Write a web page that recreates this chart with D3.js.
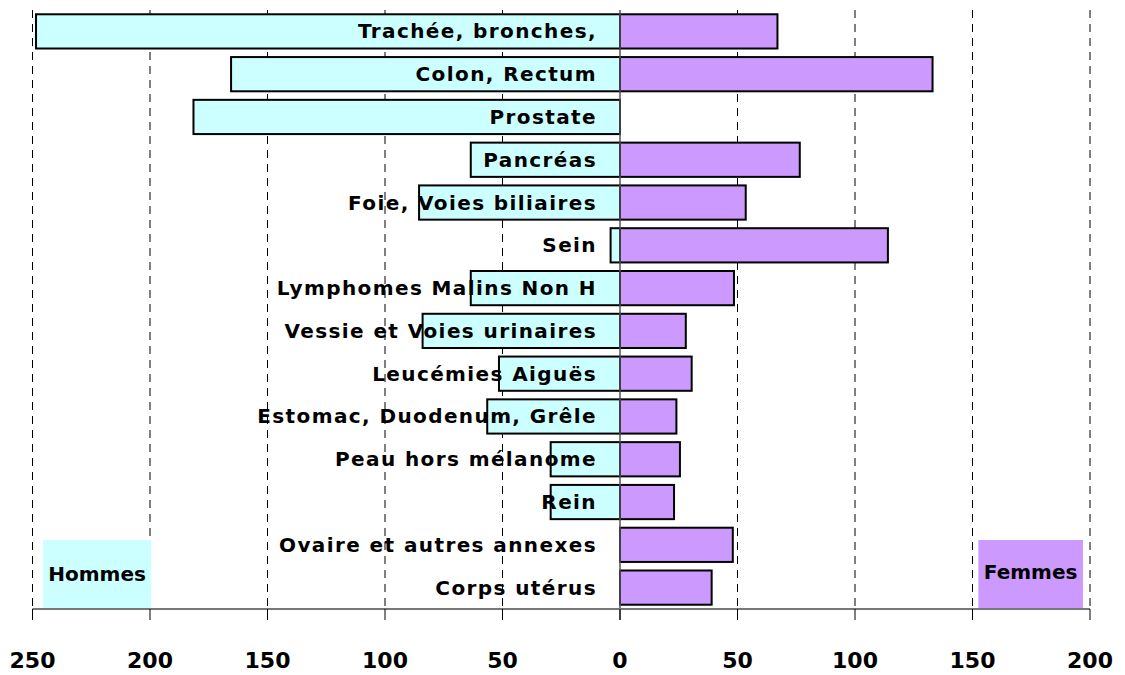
<!DOCTYPE html>
<html>
<head>
<meta charset="utf-8">
<script src="https://cdn.jsdelivr.net/npm/d3@7"></script>
<style>
  body { margin: 0; background: #fff; }
  text { font-family: "Comic Sans MS", "DejaVu Sans", sans-serif; font-weight: bold; fill: #000; }
</style>
</head>
<body>
<div id="chartArea"></div>
<script>
// data
const categories = [
  "Trachée, bronches,", "Colon, Rectum", "Prostate", "Pancréas",
  "Foie, Voies biliaires", "Sein", "Lymphomes Malins Non H",
  "Vessie et Voies urinaires", "Leucémies Aiguës", "Estomac, Duodenum, Grêle",
  "Peau hors mélanome", "Rein", "Ovaire et autres annexes", "Corps utérus"
];
const hommes = [248.5, 165.5, 181.5, 63.5, 85.5, 4, 63.5, 84, 51.5, 56.5, 29.5, 29.5, 0, 0];
const femmes = [67, 133, 0, 76.5, 53.5, 114, 48.5, 28, 30.5, 24, 25.5, 23, 48, 39];
const ticks = [-250, -200, -150, -100, -50, 0, 50, 100, 150, 200];

const chart = {};
chart.width = 1125;
chart.height = 675;
chart.margin = { top: 10, right: 35, bottom: 66, left: 32.5 };

chart.svg = d3.select("#chartArea").append("svg")
  .attr("width", chart.width)
  .attr("height", chart.height);

var x = d3.scaleLinear([-250, 200], [chart.margin.left, chart.width - chart.margin.right]);
var y = d3.scaleBand(categories, [chart.margin.top, chart.height - chart.margin.bottom])
  .paddingInner(0.2)
  .paddingOuter(0.1);
var bottom = chart.height - chart.margin.bottom;

// dashed grid
chart.svg.append("g")
  .selectAll("line")
  .data(ticks.filter((d) => d !== 0))
  .join("line")
  .attr("x1", (d) => x(d)).attr("x2", (d) => x(d))
  .attr("y1", chart.margin.top).attr("y2", bottom)
  .attr("stroke", "#000")
  .attr("stroke-width", 1)
  .attr("stroke-dasharray", "8,6");

// legend boxes
chart.svg.append("rect")
  .attr("x", x(-245.5)).attr("y", 540)
  .attr("width", x(-199.5) - x(-245.5)).attr("height", bottom - 540)
  .attr("fill", "#ccffff");
chart.svg.append("text")
  .attr("x", (x(-245.5) + x(-199.5)) / 2).attr("y", 574)
  .attr("text-anchor", "middle").attr("dominant-baseline", "central")
  .style("font-size", "20px")
  .text("Hommes");
chart.svg.append("rect")
  .attr("x", x(152.5)).attr("y", 540)
  .attr("width", x(197) - x(152.5)).attr("height", bottom - 540)
  .attr("fill", "#cc99ff");
chart.svg.append("text")
  .attr("x", (x(152.5) + x(197)) / 2).attr("y", 572)
  .attr("text-anchor", "middle").attr("dominant-baseline", "central")
  .style("font-size", "20px")
  .text("Femmes");

// bars
chart.svg.append("g")
  .selectAll("rect")
  .data(categories.filter((d, i) => hommes[i] > 0))
  .join("rect")
  .attr("x", (d) => x(-hommes[categories.indexOf(d)]))
  .attr("y", (d) => y(d))
  .attr("width", (d) => x(0) - x(-hommes[categories.indexOf(d)]))
  .attr("height", y.bandwidth())
  .attr("fill", "#ccffff")
  .attr("stroke", "#000")
  .attr("stroke-width", 2);

chart.svg.append("g")
  .selectAll("rect")
  .data(categories.filter((d, i) => femmes[i] > 0))
  .join("rect")
  .attr("x", x(0))
  .attr("y", (d) => y(d))
  .attr("width", (d) => x(femmes[categories.indexOf(d)]) - x(0))
  .attr("height", y.bandwidth())
  .attr("fill", "#cc99ff")
  .attr("stroke", "#000")
  .attr("stroke-width", 2);

// axes
chart.svg.append("line")
  .attr("x1", x(0)).attr("x2", x(0))
  .attr("y1", chart.margin.top).attr("y2", bottom + 11)
  .attr("stroke", "#555").attr("stroke-width", 1.5);
chart.svg.append("line")
  .attr("x1", x(-250)).attr("x2", x(200))
  .attr("y1", bottom).attr("y2", bottom)
  .attr("stroke", "#777").attr("stroke-width", 2);
chart.svg.append("g")
  .selectAll("line")
  .data(ticks)
  .join("line")
  .attr("x1", (d) => x(d)).attr("x2", (d) => x(d))
  .attr("y1", bottom).attr("y2", bottom + 11)
  .attr("stroke", "#000");
chart.svg.append("g")
  .selectAll("text")
  .data(ticks)
  .join("text")
  .attr("x", (d) => x(d)).attr("y", 660)
  .attr("text-anchor", "middle").attr("dominant-baseline", "central")
  .style("font-size", "22px")
  .text((d) => Math.abs(d));

// category labels
chart.svg.append("g")
  .selectAll("text")
  .data(categories)
  .join("text")
  .attr("x", x(0) - 23)
  .attr("y", (d) => y(d) + y.bandwidth() / 2)
  .attr("text-anchor", "end").attr("dominant-baseline", "central")
  .style("font-size", "20px")
  .style("letter-spacing", "1.4px")
  .text((d) => d);
</script>
</body>
</html>
